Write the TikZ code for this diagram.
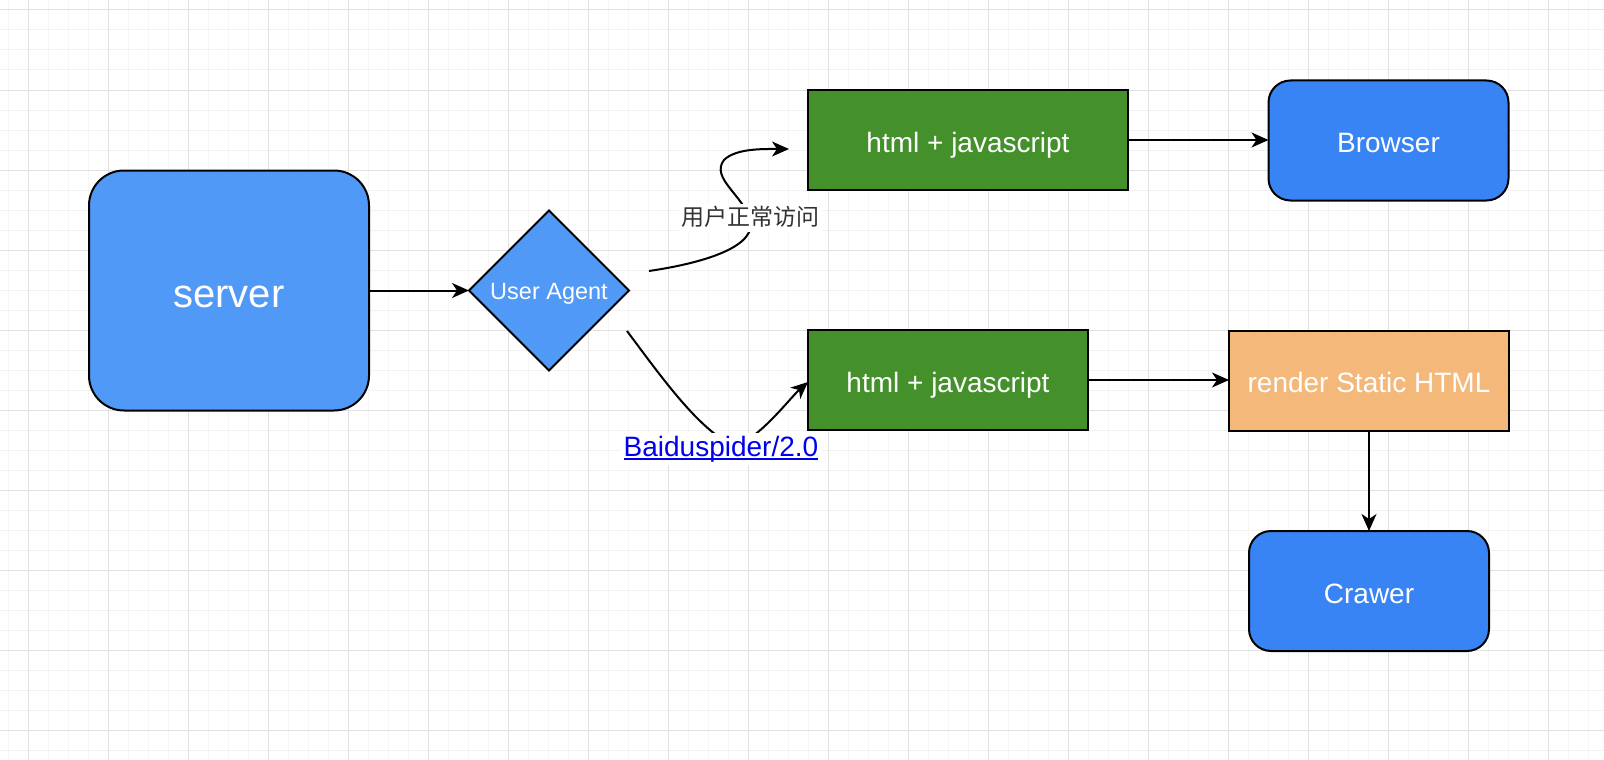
\documentclass[tikz,border=0pt]{standalone}
\usepackage{fontspec}
\setmainfont{Liberation Sans}
\newfontfamily\cjk{Noto Sans CJK SC}
\usetikzlibrary{shapes.geometric,arrows.meta}
\definecolor{gridminorv}{HTML}{F6F6F6}
\definecolor{gridminorh}{HTML}{F2F2F2}
\definecolor{gridmajor}{HTML}{E0E0E0}
\definecolor{lightblue}{HTML}{5199F6}
\definecolor{darkblue}{HTML}{3884F5}
\definecolor{grassgreen}{HTML}{44912B}
\definecolor{peach}{HTML}{F4B97A}
\definecolor{labelgray}{HTML}{333333}
\definecolor{linkblue}{HTML}{0000EE}
\tikzset{
  box/.style={draw=black, line width=2pt, inner sep=0pt, outer sep=0pt, text=white, align=center},
  roundbox/.style={box, rounded corners=22pt},
  fbig/.style={font=\fontsize{40}{48}\selectfont, text height=34.8pt, text depth=0pt},
  fmid/.style={font=\fontsize{28}{34}\selectfont, text height=24.2pt, text depth=0pt},
  fsmall/.style={font=\fontsize{23.5}{28}\selectfont, text height=18.9pt, text depth=0pt},
  conn/.style={line width=2pt, -{Stealth[length=17pt,width=15pt,inset=5pt]}},
  edgelabel/.style={fill=white, inner sep=3pt}
}
\begin{document}
\begin{tikzpicture}[x=1pt,y=-1pt]
\useasboundingbox (0,0) rectangle (1604,760);
\fill[white] (0,0) rectangle (1604,760);
% grid
\foreach \x in {8,28,...,1604} \draw[gridminorv, line width=1pt] (\x,0) -- (\x,760);
\foreach \y in {10,30,...,760} \draw[gridminorh, line width=1pt] (0,\y) -- (1604,\y);
\foreach \x in {28,108,...,1604} \draw[gridmajor, line width=1pt] (\x,0) -- (\x,760);
\foreach \y in {10,90,...,760} \draw[gridmajor, line width=1pt] (0,\y) -- (1604,\y);

% nodes
\node[roundbox, rounded corners=35pt, fill=lightblue, minimum width=280pt, minimum height=240pt, fbig]
      (server) at (229,290.5) {server};
\node[box, diamond, aspect=1, fill=lightblue, minimum width=160pt, minimum height=160pt, fsmall]
      (ua) at (549,290.5) {User Agent};
\node[box, fill=grassgreen, minimum width=320pt, minimum height=100pt, fmid]
      (hjs1) at (968,140) {html + javascript};
\node[roundbox, fill=darkblue, minimum width=240pt, minimum height=120pt, fmid]
      (browser) at (1388.5,140.5) {Browser};
\node[box, fill=grassgreen, minimum width=280pt, minimum height=100pt, fmid]
      (hjs2) at (948,380) {html + javascript};
\node[box, fill=peach, minimum width=280pt, minimum height=100pt, fmid]
      (render) at (1369,380.5) {render Static HTML};
\node[roundbox, fill=darkblue, minimum width=240pt, minimum height=120pt, fmid]
      (crawer) at (1369,591) {Crawer};

% free ends of curved connectors
\coordinate (c1s) at (649,271);
\coordinate (c1e) at (789,149);
\coordinate (c2s) at (627,331);

% straight connectors
\draw[conn] (server.east) -- (ua.west);
\draw[conn] (hjs1.east) -- (browser.west |- hjs1.east);
\draw[conn] (hjs2.east) -- (render.west |- hjs2.east);
\draw[conn] (render.south) -- (crawer.north);

% curved connectors
\draw[conn] (c1s) .. controls (710,262) and (757,245) .. (750,220)
   .. controls (744,196) and (710,178) .. (724,160)
   .. controls (736,148) and (765,149) .. (c1e);
\draw[conn] (c2s) .. controls (660,375) and (700,432) .. (735,446)
   .. controls (760,438) and (790,398) .. (hjs2.west |- 0,382);

% labels
\node[edgelabel, inner sep=2.5pt, text=labelgray, font=\cjk\fontsize{23}{28}\selectfont,
      text height=19pt, text depth=4pt] (l1) at (750,218) {用户正常访问};
\node[edgelabel, text=linkblue, font=\fontsize{28}{34}\selectfont,
      text height=20.2pt, text depth=6pt] (l2) at (721,449) {Baiduspider/2.0};
\draw[linkblue, line width=1.8pt] ([xshift=3pt,yshift=-2.5pt]l2.base west) -- ([xshift=-3pt,yshift=-2.5pt]l2.base east);
\end{tikzpicture}
\end{document}
